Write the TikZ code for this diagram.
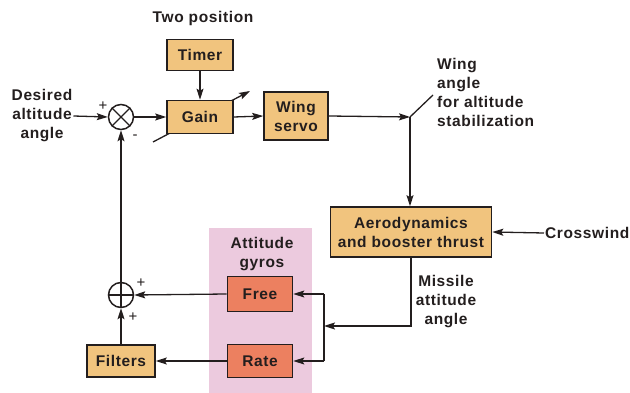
\documentclass[tikz,border=0pt]{standalone}
\usepackage{fontspec}
\setmainfont{Liberation Sans}[LetterSpace=4]
\usetikzlibrary{arrows.meta}
\definecolor{boxtan}{RGB}{241,196,126}
\definecolor{boxsalmon}{RGB}{236,128,96}
\definecolor{gyropink}{RGB}{236,202,222}
\definecolor{inkline}{RGB}{35,30,30}

\begin{document}
\begin{tikzpicture}[x=1pt,y=-1pt,
  every node/.style={font=\fontsize{15.5}{19}\selectfont\bfseries, text=inkline, inner sep=1pt},
  blk/.style={draw=inkline, line width=1.6pt, fill=boxtan, align=center, inner sep=0pt},
  gyro/.style={blk, fill=boxsalmon},
  sumj/.style={draw=inkline, line width=1.5pt, circle, minimum size=25pt, inner sep=0pt},
  sig/.style={draw=inkline, line width=1.3pt, -{Stealth[length=11pt,width=7pt,inset=2pt]}},
  wire/.style={draw=inkline, line width=1.3pt},
  sgn/.style={font=\fontsize{15}{15}\selectfont, inner sep=0pt}]
\useasboundingbox (0,0) rectangle (630,393);

%gyro panel
\fill[gyropink] (209,228) rectangle (312,393);

%variable gain arrow, under the box
\coordinate (ga) at (153,142);
\coordinate (gb) at (250,91);
\draw[sig] (ga) -- (gb);

%blocks
\node[blk, minimum width=66pt, minimum height=31pt] (timer) at (200,55) {Timer};
\node[blk, minimum width=66pt, minimum height=33pt] (gain) at (200,117) {Gain};
\node[blk, minimum width=64pt, minimum height=48pt] (servo) at (296,116) {Wing\\servo};
\node[blk, minimum width=161pt, minimum height=50pt] (aero) at (411,232) {Aerodynamics\\and booster thrust};
\node[gyro, minimum width=65pt, minimum height=35pt] (free) at (260,294) {Free};
\node[gyro, minimum width=65pt, minimum height=33pt] (rate) at (260,361) {Rate};
\node[blk, minimum width=68pt, minimum height=32pt] (filt) at (121,361) {Filters};

%summing points
\node[sumj] (sx) at (121,117) {};
\draw[wire] (sx.north west) -- (sx.south east) (sx.north east) -- (sx.south west);
\node[sumj] (sp) at (121,295) {};
\draw[wire] (sp.north) -- (sp.south) (sp.west) -- (sp.east);

%labels
\node (two) at (203,18) {Two position};
\node[align=center] (des) at (42,116) {Desired\\altitude\\angle};
\node[align=left, anchor=west] (wing) at (436,92) {Wing\\angle\\for altitude\\stabilization};
\node[anchor=west] (cw) at (544,233) {Crosswind};
\node[align=center] (mis) at (446,302) {Missile\\attitude\\angle};
\node[align=center] (att) at (262,254) {Attitude\\gyros};
\node[sgn] (p1) at (103,106) {+};
\node[sgn] (m1) at (135,137) {-};
\node[sgn] (p2) at (141,283) {+};
\node[sgn] (p3) at (133,317) {+};

%forward path
\coordinate (sw) at (410,117);
\coordinate (swtip) at (433,95);
\draw[sig] (des.east) -- (sx.west);
\draw[sig] (sx.east) -- (gain.west);
\draw[sig] (timer.south) -- (gain.north);
\draw[sig] (gain.east) -- (servo.west);
\draw[sig] (servo.east) -- (sw);
\draw[wire] (sw) -- (swtip);
\draw[sig] (sw) -- (sw |- aero.north);
\draw[sig] (cw.west) -- (aero.east);

%feedback path
\coordinate (bj) at (324,326);
\draw[sig] (aero.south) |- (bj);
\draw[wire] (bj |- free.east) -- (bj |- rate.east);
\draw[sig] (bj |- free.east) -- (free.east);
\draw[sig] (bj |- rate.east) -- (rate.east);
\draw[sig] (free.west) -- (sp.east);
\draw[sig] (rate.west) -- (filt.east);
\draw[sig] (filt.north) -- (sp.south);
\draw[sig] (sp.north) -- (sx.south);
\end{tikzpicture}
\end{document}
